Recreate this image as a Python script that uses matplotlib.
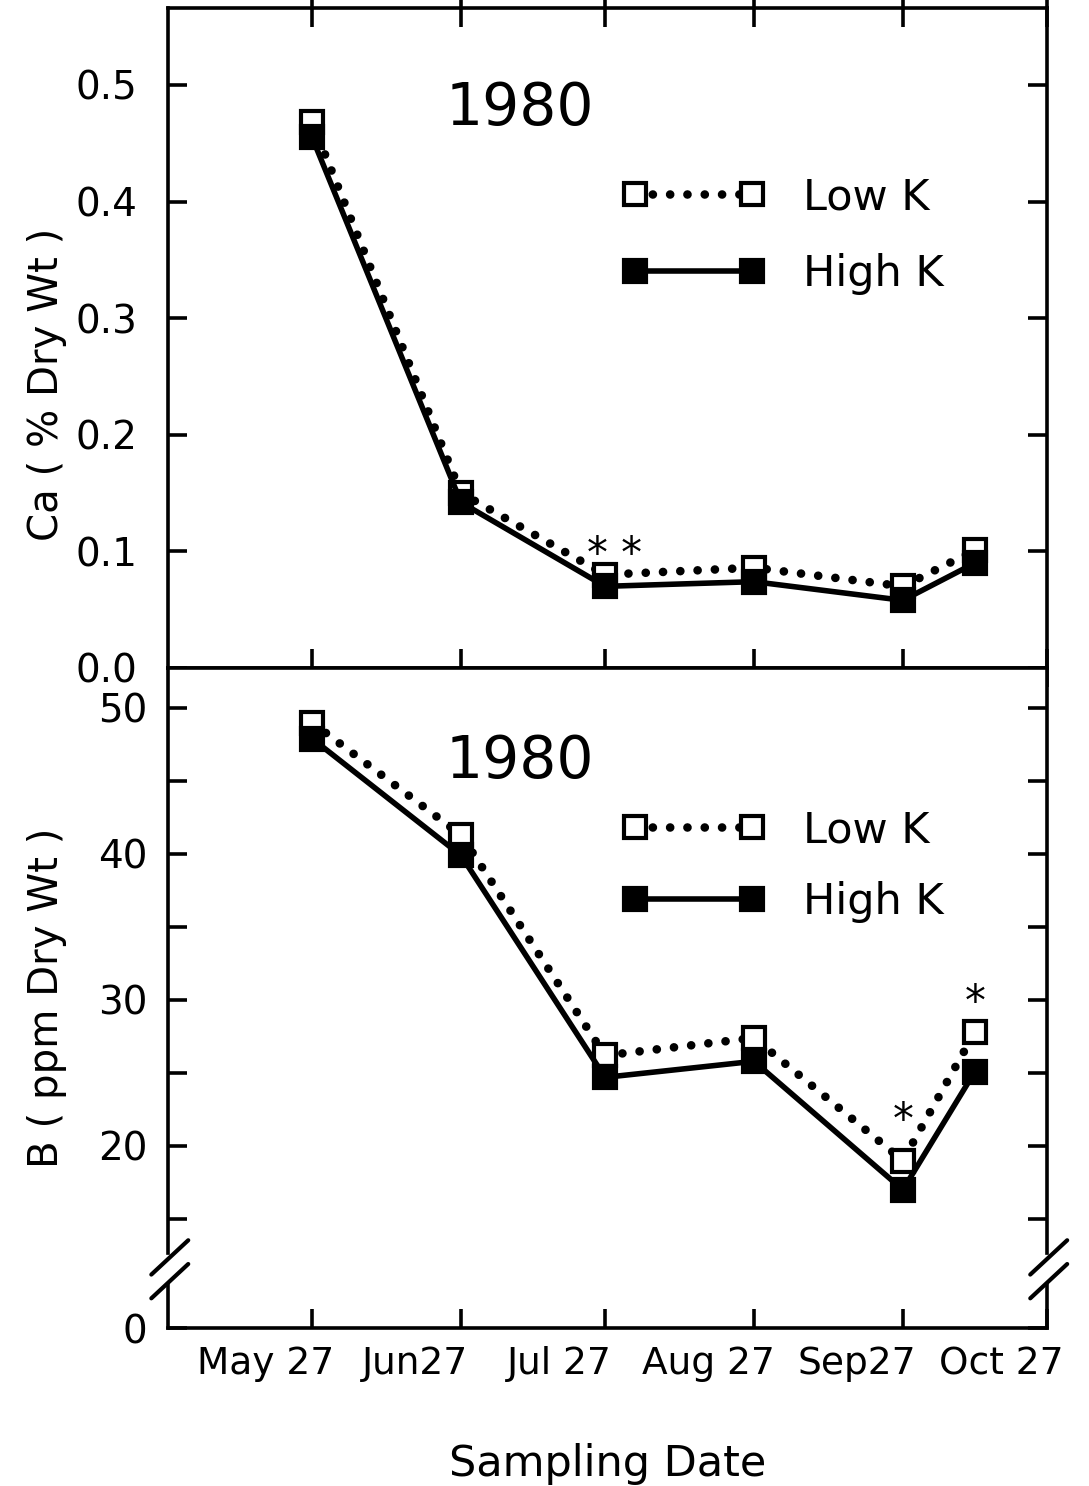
import numpy as np
import matplotlib
matplotlib.use('Agg')
import matplotlib.pyplot as plt
import matplotlib.transforms as mtransforms
from datetime import datetime


# sampling dates (1980)
sample_dates = [datetime(1980, 5, 27), datetime(1980, 6, 27), datetime(1980, 7, 27),
                datetime(1980, 8, 27), datetime(1980, 9, 27), datetime(1980, 10, 12)]

# Ca (% dry wt)
ca_low_k = [0.468, 0.150, 0.080, 0.086, 0.070, 0.101]
ca_high_k = [0.455, 0.142, 0.070, 0.074, 0.058, 0.090]

# B (ppm dry wt)
b_low_k = [49.0, 41.3, 26.2, 27.4, 19.0, 27.8]
b_high_k = [47.9, 39.9, 24.7, 25.8, 17.0, 25.1]

tick_dates = [datetime(1980, m, 27) for m in range(5, 11)]
tick_names = ['May 27', 'Jun27', 'Jul 27', 'Aug 27', 'Sep27', 'Oct 27']

ca_ticks = [0.0, 0.1, 0.2, 0.3, 0.4, 0.5]
b_ticks = [0, 15, 20, 25, 30, 35, 40, 45, 50]
b_labels = ['0', '', '20', '', '30', '', '40', '', '50']

plt.rcParams['font.family'] = 'DejaVu Sans'

fig = plt.figure(figsize=(10.89, 14.86), dpi=100)
ax_ca = fig.add_axes([0.1543, 0.5505, 0.8071, 0.4441])
ax_b = fig.add_axes([0.1543, 0.1063, 0.8071, 0.4442], sharex=ax_ca)

LW_SPINE = 2.6
low_style = dict(color='black', lw=6.2, linestyle=(0, (0.01, 2.0)), dash_capstyle='round',
                 marker='s', ms=15.5, mfc='white', mec='black', mew=3.0, zorder=3)
high_style = dict(color='black', lw=4.0, linestyle='-', solid_capstyle='round',
                  marker='s', ms=15.5, mfc='black', mec='black', mew=3.0, zorder=4)


# broken axis: values below 12 get squeezed into a short strip
def b_forward(v):
    v = np.asarray(v, dtype=float)
    return np.where(v >= 12, v, 7.53 + v * (12 - 7.53) / 12)


def b_inverse(u):
    u = np.asarray(u, dtype=float)
    return np.where(u >= 12, u, (u - 7.53) * 12 / (12 - 7.53))


for ax in (ax_ca, ax_b):
    for s in ax.spines.values():
        s.set_linewidth(LW_SPINE)
    ax.tick_params(axis='both', which='major', width=2.6, direction='in', length=14,
                   left=True, right=True, top=True, bottom=True, labelsize=28)

# ---- top panel: Ca ----
ax_ca.plot(sample_dates, ca_low_k, label='Low K', **low_style)
ax_ca.plot(sample_dates, ca_high_k, label='High K', **high_style)
ax_ca.set_ylim(0, 0.566)
ax_ca.set_yticks(ca_ticks)
ax_ca.set_yticklabels(['0.0', '0.1', '0.2', '0.3', '0.4', '0.5'])
ax_ca.tick_params(axis='y', pad=22)
ax_ca.set_ylabel('Ca ( % Dry Wt )', fontsize=29)
ax_ca.yaxis.set_label_coords(-0.115, 0.43)
ax_ca.tick_params(axis='x', which='major', direction='inout', length=28, labelbottom=False)
ax_ca.text(0.40, 0.848, '1980', transform=ax_ca.transAxes, fontsize=42,
           ha='center', va='center')
ax_ca.annotate('* *', xy=(sample_dates[2], 0.097), xytext=(7, 0), textcoords='offset points',
               fontsize=30, ha='center', va='center')
ax_ca.legend(loc='center left', bbox_to_anchor=(0.517, 0.655), frameon=False, numpoints=2,
             handlelength=3.3, handletextpad=0.9, labelspacing=0.8, fontsize=31,
             borderpad=0, borderaxespad=0)

# ---- bottom panel: B ----
ax_b.set_yscale('function', functions=(b_forward, b_inverse))
ax_b.plot(sample_dates, b_low_k, label='Low K', **low_style)
ax_b.plot(sample_dates, b_high_k, label='High K', **high_style)
ax_b.set_ylim(0, 52.74)
ax_b.set_yticks(b_ticks)
ax_b.set_yticklabels(b_labels)
ax_b.yaxis.set_minor_locator(matplotlib.ticker.NullLocator())
ax_b.tick_params(axis='y', pad=15)
ax_b.set_ylabel('B ( ppm Dry Wt )', fontsize=29)
ax_b.yaxis.set_label_coords(-0.115, 0.50)
ax_b.tick_params(axis='x', top=False, labelsize=27, pad=13)
ax_b.text(0.40, 0.858, '1980', transform=ax_b.transAxes, fontsize=42,
          ha='center', va='center')
ax_b.text(sample_dates[4], 21.7, '*', fontsize=30, ha='center', va='center')
ax_b.text(sample_dates[5], 29.8, '*', fontsize=30, ha='center', va='center')
ax_b.legend(loc='center left', bbox_to_anchor=(0.517, 0.70), frameon=False, numpoints=2,
            handlelength=3.3, handletextpad=0.9, labelspacing=0.68, fontsize=31,
            borderpad=0, borderaxespad=0)

# x axis: monthly sampling dates, labels set slightly left of the ticks
ax_b.set_xlim(datetime(1980, 4, 27), datetime(1980, 10, 27))
ax_b.set_xticks(tick_dates)
ax_b.set_xticklabels(tick_names)
ax_b.set_xlabel('Sampling Date', fontsize=31, labelpad=44)
shift = mtransforms.ScaledTranslation(-46 / 100, 0, fig.dpi_scale_trans)
for lbl in ax_b.get_xticklabels():
    lbl.set_transform(lbl.get_transform() + shift)

# break marks on both side spines
for x0 in (0.0, 1.0):
    ax_b.plot([x0, x0], [0.074, 0.104], transform=ax_b.transAxes, color='white',
              lw=6, clip_on=False, zorder=5)
    for yc in (0.107, 0.071):
        ax_b.plot([x0 - 0.019, x0 + 0.023], [yc - 0.026, yc + 0.026], transform=ax_b.transAxes,
                  color='black', lw=3, solid_capstyle='round', clip_on=False, zorder=6)

fig.savefig('out.png', dpi=100)
